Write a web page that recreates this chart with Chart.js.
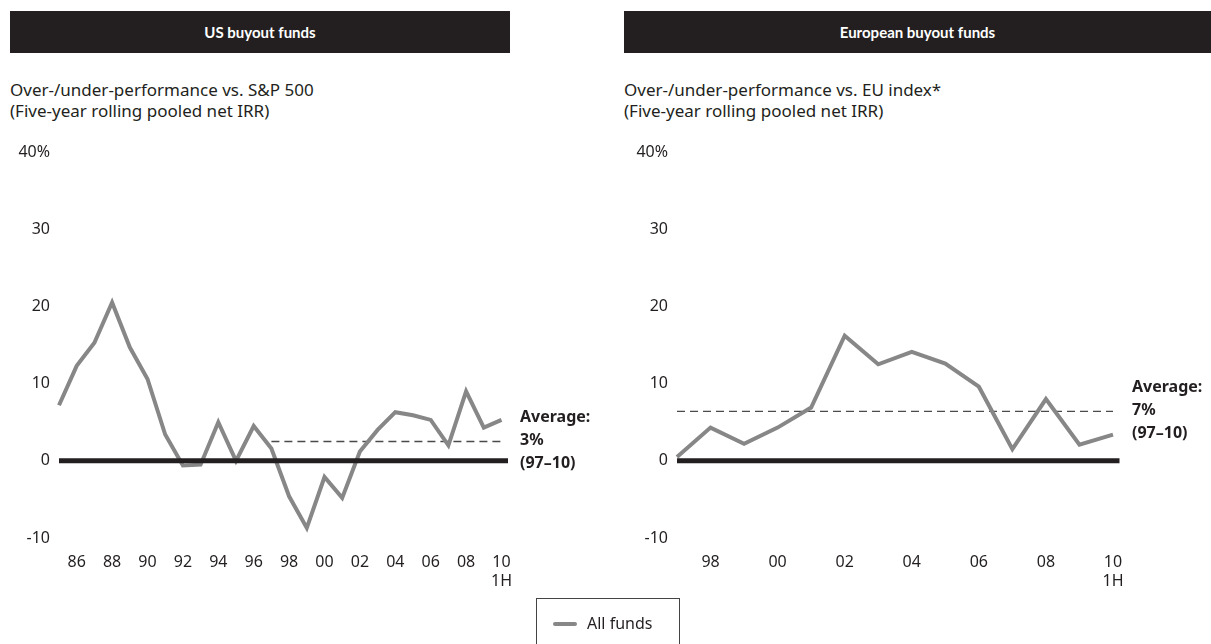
<!DOCTYPE html>
<html>
<head>
<meta charset="utf-8">
<script src="https://cdn.jsdelivr.net/npm/chart.js@4/dist/chart.umd.min.js"></script>
<style>
  body { margin: 0; width: 1211px; height: 644px; background: #fff; position: relative; overflow: hidden;
         font-family: 'Noto Sans', 'Lato', sans-serif; color: #231f20; }
  .bar { position: absolute; top: 11px; height: 42px; background: #231f20; color: #fff;
         font-family: 'Lato', sans-serif; font-weight: bold; font-size: 15px; line-height: 42px; text-align: center; }
  .sub { position: absolute; top: 79px; font-size: 17px; line-height: 21px; }
  .avg { position: absolute; font-weight: bold; font-size: 16px; line-height: 23px; }
  canvas { position: absolute; top: 140px; }
  .legend { position: absolute; left: 536px; top: 598px; width: 144px; height: 60px; border: 1px solid #444;
            box-sizing: border-box; }
  .legend .swatch { position: absolute; left: 16px; top: 23px; width: 24px; height: 4px; border-radius: 2px; background: #878787; }
  .legend .txt { position: absolute; left: 50px; top: 13px; font-size: 16px; line-height: 22px; }
</style>
</head>
<body>
<div class="bar" style="left:10px;width:500px">US buyout funds</div>
<div class="bar" style="left:624px;width:587px">European buyout funds</div>
<div class="sub" style="left:10px">Over-/under-performance vs. S&amp;P 500<br>(Five-year rolling pooled net IRR)</div>
<div class="sub" style="left:624px">Over-/under-performance vs. EU index*<br>(Five-year rolling pooled net IRR)</div>

<canvas id="chartUS" width="600" height="460" style="left:0px"></canvas>
<canvas id="chartEU" width="593" height="460" style="left:618px"></canvas>

<div class="avg" style="left:520px;top:405px">Average:<br>3%<br>(97–10)</div>
<div class="avg" style="left:1132px;top:375px">Average:<br>7%<br>(97–10)</div>

<div class="legend"><div class="swatch"></div><div class="txt">All funds</div></div>

<script>
// Dados
const usYears = [1985, 1986, 1987, 1988, 1989, 1990, 1991, 1992, 1993, 1994, 1995, 1996, 1997,
                 1998, 1999, 2000, 2001, 2002, 2003, 2004, 2005, 2006, 2007, 2008, 2009, 2010];
const usValues = [7.2, 12.3, 15.3, 20.5, 14.7, 10.6, 3.4, -0.6, -0.5, 5.0, 0.0, 4.5, 1.6,
                  -4.6, -8.7, -2.1, -4.8, 1.2, 4.0, 6.3, 5.9, 5.3, 2.0, 9.0, 4.3, 5.3];
const euYears = [1997, 1998, 1999, 2000, 2001, 2002, 2003, 2004, 2005, 2006, 2007, 2008, 2009, 2010];
const euValues = [0.5, 4.3, 2.2, 4.3, 6.9, 16.2, 12.5, 14.1, 12.6, 9.6, 1.5, 8.0, 2.1, 3.4];

const usAverage = 2.5;
const euAverage = 6.4;
const averageFrom = 1997;
const lastYear = 2010;
const yTicks = [-10, 0, 10, 20, 30, 40];

const GRAY = '#878787';
const INK = '#231f20';
const FONT = "'Noto Sans', 'Lato', sans-serif";

// Linha do zero, um pouco além da última categoria
const zeroLine = {
    id: 'zeroLine',
    afterDatasetsDraw(chart) {
        const { ctx, chartArea, scales } = chart;
        const y = scales.y.getPixelForValue(0);
        ctx.save();
        ctx.strokeStyle = INK;
        ctx.lineWidth = 5;
        ctx.beginPath();
        ctx.moveTo(chartArea.left, y);
        ctx.lineTo(chartArea.right + 6.5, y);
        ctx.stroke();
        ctx.restore();
    }
};

function tickLabel(year) {
    if (year % 2 !== 0) return '';
    const yy = String(year).slice(2);
    return year === lastYear ? [yy, '1H'] : yy;
}

function criarGrafico(id, years, values, average, rightPad) {
    const ctx = document.getElementById(id).getContext('2d');
    return new Chart(ctx, {
        type: 'line',
        data: {
            labels: years,
            datasets: [
                {
                    data: values,
                    borderColor: GRAY,
                    borderWidth: 4,
                    pointRadius: 0,
                    tension: 0,
                    order: 0
                },
                {
                    data: years.map(y => y >= averageFrom ? average : null),
                    borderColor: '#4a4a4a',
                    borderWidth: 1.4,
                    borderDash: [8, 5],
                    pointRadius: 0,
                    order: 1
                }
            ]
        },
        options: {
            responsive: false,
            animation: false,
            layout: { padding: { top: 12, right: rightPad, left: 0, bottom: 0 } },
            plugins: { legend: { display: false }, tooltip: { enabled: false } },
            scales: {
                x: {
                    type: 'category',
                    offset: false,
                    grid: { display: false, drawTicks: false },
                    border: { display: false },
                    afterFit: s => { s.height = 62; s.paddingLeft = 0; s.paddingRight = 0; },
                    ticks: {
                        autoSkip: false,
                        maxRotation: 0,
                        padding: 15,
                        color: INK,
                        font: { family: FONT, size: 16 },
                        callback: function(v, i) { return tickLabel(years[i]); }
                    }
                },
                y: {
                    min: -10,
                    max: 40,
                    grid: { display: false, drawTicks: false },
                    border: { display: false },
                    afterFit: s => { s.width = 59; s.paddingTop = 0; s.paddingBottom = 0; },
                    afterBuildTicks: s => { s.ticks = yTicks.map(v => ({ value: v })); },
                    ticks: {
                        padding: 9,
                        color: INK,
                        font: { family: FONT, size: 16 },
                        callback: v => v === 40 ? '40%' : String(v)
                    }
                }
            }
        },
        plugins: [zeroLine]
    });
}

criarGrafico('chartUS', usYears, usValues, usAverage, 98.5);
criarGrafico('chartEU', euYears, euValues, euAverage, 98);
</script>
</body>
</html>
